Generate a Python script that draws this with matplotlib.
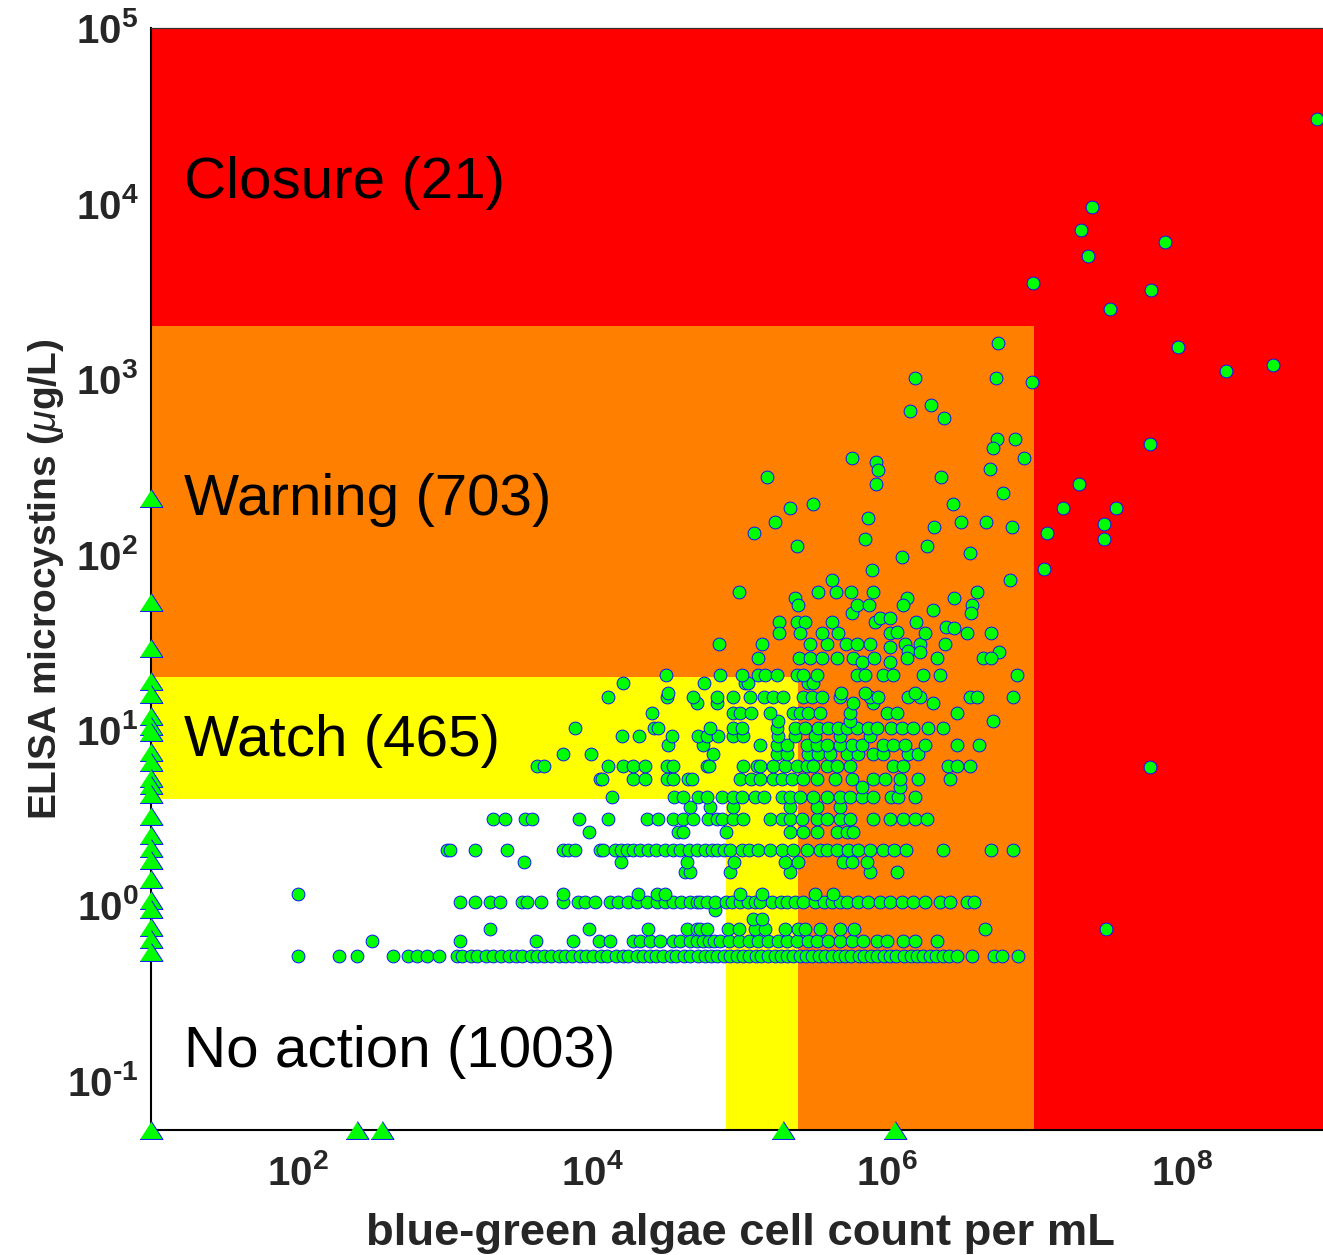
import numpy as np
import matplotlib
matplotlib.use('Agg')
import matplotlib.pyplot as plt
from matplotlib.patches import Rectangle
from matplotlib.ticker import FixedLocator, FixedFormatter, NullLocator

plt.rcParams['font.family'] = ['Liberation Sans', 'DejaVu Sans']
plt.rcParams['mathtext.fontset'] = 'custom'
plt.rcParams['mathtext.rm'] = 'Liberation Sans:bold'
plt.rcParams['mathtext.bf'] = 'Liberation Sans:bold'
plt.rcParams['mathtext.sf'] = 'Liberation Sans:bold'
plt.rcParams['mathtext.it'] = 'Liberation Sans:italic'

# ---------------- thresholds (guideline regions) ----------------
closure_toxin, closure_cells = 2000, 1e7
warning_toxin, warning_cells = 20, 2.5e5
watch_toxin, watch_cells = 4, 8e4

region_labels = ['Closure (21)', 'Warning (703)', 'Watch (465)', 'No action (1003)']

# ---------------- measured samples: rows of (toxin level, cell counts) ----------------
cells_at_0p51 = [100, 190, 250, 440, 560, 640, 750, 910, 1200, 1300, 1500, 1650, 1900, 2100, 2400,
                 2700, 3000, 3300, 3800, 4200, 4700, 5200, 5900, 6500, 7300, 8200, 9000, 10000,
                 11500, 12500, 14500, 16000, 17500, 20000, 22000, 24500, 27000, 30000, 34000, 37000,
                 42000, 46000, 52000, 58000, 64000, 70000, 78000, 86000, 95000, 105000, 115000,
                 128000, 140000, 155000, 172000, 190000, 210000, 230000, 255000, 280000, 310000,
                 345000, 380000, 420000, 470000, 520000, 570000, 640000, 700000, 780000, 860000,
                 950000, 1.05e6, 1.15e6, 1.3e6, 1.45e6, 1.6e6, 1.75e6, 1.95e6, 2.15e6, 2.4e6,
                 2.65e6, 3.0e6, 3.8e6, 5.3e6, 6.0e6, 7.8e6]
cells_at_0p62 = [320, 1260, 4100, 7400, 11000, 13200, 18800, 21000, 24500, 28700, 35000, 39000,
                 46000, 51000, 56000, 62000, 67000, 73000, 85000, 98000, 115000, 133000, 155000,
                 181000, 210000, 243000, 290000, 333000, 400000, 477000, 580000, 690000, 850000,
                 1.0e6, 1.29e6, 1.55e6, 2.18e6]
cells_at_0p73 = [2000, 9500, 23800, 43600, 51000, 54000, 60000, 83000, 98000, 127000, 148000,
                 203000, 248000, 277000, 350000, 477000, 600000, 4.6e6]
cells_at_0p83 = [123000, 142000]
cells_at_0p94 = [68000]
cells_at_1p04 = [1260, 1580, 2000, 2350, 3300, 3600, 4500, 6300, 8000, 8900, 10400, 13200, 14800,
                 17400, 20000, 23400, 27300, 31000, 35000, 40000, 46000, 51000, 54000, 60000,
                 68000, 80000, 88000, 100000, 113000, 127000, 138000, 166000, 190000, 210000,
                 237000, 270000, 323000, 370000, 420000, 480000, 535000, 630000, 740000, 890000,
                 1.05e6, 1.26e6, 1.5e6, 1.8e6, 2.28e6, 2.66e6, 3.47e6, 3.9e6]
cells_at_1p15 = [100, 6300, 20500, 27300, 31000, 100000, 142000, 323000, 430000]
cells_at_1p54 = [42500, 46000, 86000, 220000, 767000, 1.17e6]
cells_at_1p76 = [3400, 15500, 43600, 92000, 203000, 248000, 500000, 575000, 725000]
cells_at_2p06 = [1020, 1070, 1580, 2630, 6300, 6800, 7600, 11200, 11700, 14100, 15500, 17200,
                 18800, 21000, 23700, 27000, 31000, 35000, 39000, 45000, 51000, 58000, 65000,
                 70000, 78000, 86000, 103000, 115000, 133000, 160000, 193000, 230000, 285000,
                 350000, 390000, 457000, 543000, 630000, 767000, 935000, 1.12e6, 1.35e6, 2.4e6,
                 5.1e6, 7.2e6]
cells_at_2p6 = [9500, 38000, 41000, 81000, 220000, 270000, 335000, 457000, 535000, 590000]
cells_at_3p1 = [2100, 2540, 3470, 3890, 8100, 12700, 23400, 27900, 35000, 41000, 48000, 61000,
                70000, 76000, 90000, 105000, 160000, 193000, 220000, 265000, 335000, 390000,
                477000, 560000, 800000, 1.05e6, 1.29e6, 1.55e6, 1.86e6]
cells_at_3p6 = [46000, 63000, 90000, 220000, 335000, 477000]
cells_at_4p1 = [13500, 36000, 41000, 52000, 60000, 76000, 90000, 103000, 127000, 145000, 193000,
                220000, 257000, 316000, 390000, 477000, 560000, 680000, 800000, 1.07e6, 1.19e6,
                1.55e6]
cells_at_4p7 = [680000, 1.23e6]
cells_at_5p2 = [11200, 11600, 18800, 22600, 32000, 35000, 44700, 47300, 100000, 120000, 138000,
                168000, 193000, 226000, 270000, 335000, 442000, 575000, 800000, 965000, 1.23e6,
                1.62e6, 2.69e6]
cells_at_6p2 = [4200, 4700, 12700, 16200, 18800, 22600, 32000, 35000, 60000, 62000, 105000,
                130000, 138000, 168000, 203000, 243000, 285000, 316000, 390000, 457000, 560000,
                1.1e6, 1.29e6, 2.6e6, 3.0e6, 3.67e6]
cells_at_7p2 = [6300, 9700, 66000, 178000, 210000, 292000, 340000, 412000, 535000, 630000, 800000,
                935000, 1.39e6, 1.62e6]
cells_at_8p2 = [32400, 56000, 138000, 178000, 210000, 285000, 335000, 390000, 477000, 575000,
                680000, 935000, 1.1e6, 1.32e6, 1.82e6, 3.0e6, 4.2e6]
cells_at_9p2 = [15800, 20700, 34700, 52000, 60000, 71000, 90000, 105000, 181000, 237000, 323000,
                477000, 767000]
cells_at_10p2 = [7600, 26300, 27900, 63000, 90000, 103000, 178000, 237000, 277000, 340000, 400000,
                 467000, 535000, 623000, 740000, 850000, 1.07e6, 1.26e6, 1.5e6, 1.9e6, 2.4e6]
cells_at_11p2 = [181000, 560000, 5.25e6]
cells_at_12p4 = [25400, 90000, 100000, 120000, 160000, 230000, 257000, 292000, 350000, 560000,
                 1.0e6, 1.17e6, 3.0e6]
cells_at_14p2 = [51000, 70000, 590000, 800000, 2.05e6]
cells_at_15p4 = [12700, 32000, 48000, 70000, 90000, 117000, 145000, 168000, 197000, 270000,
                 309000, 363000, 477000, 767000, 870000, 1.38e6, 1.68e6, 3.67e6, 4.1e6, 7.2e6]
cells_at_16p2 = [32400, 490000, 705000, 1.55e6]
cells_at_18p4 = [16200, 57500, 108000, 113000, 292000, 316000]
cells_at_20p5 = [31600, 73000, 103000, 133000, 148000, 178000, 243000, 270000, 335000, 623000,
                 705000, 935000, 1.1e6, 1.76e6, 2.28e6, 7.6e6]

toxin_levels = [0.51, 0.62, 0.73, 0.83, 0.94, 1.04, 1.15, 1.54, 1.76, 2.06, 2.6, 3.1, 3.6, 4.1,
                4.7, 5.2, 6.2, 7.2, 8.2, 9.2, 10.2, 11.2, 12.4, 14.2, 15.4, 16.2, 18.4, 20.5]
cells_by_level = [cells_at_0p51, cells_at_0p62, cells_at_0p73, cells_at_0p83, cells_at_0p94,
                  cells_at_1p04, cells_at_1p15, cells_at_1p54, cells_at_1p76, cells_at_2p06,
                  cells_at_2p6, cells_at_3p1, cells_at_3p6, cells_at_4p1, cells_at_4p7,
                  cells_at_5p2, cells_at_6p2, cells_at_7p2, cells_at_8p2, cells_at_9p2,
                  cells_at_10p2, cells_at_11p2, cells_at_12p4, cells_at_14p2, cells_at_15p4,
                  cells_at_16p2, cells_at_18p4, cells_at_20p5]

# scattered high-toxin samples (cells/mL, ug/L)
high_cells = [72000, 141000, 299000, 390000, 525000, 623000, 767000, 1.05e6, 1.32e6, 1.68e6, 2.48e6,
              1.38e6, 1.68e6, 5.75e6,
              133000, 251000, 299000, 363000, 457000, 590000, 676000, 813000, 1.05e6, 1.36e6,
              2.18e6, 4.5e6, 5.1e6,
              184000, 184000, 245000, 277000, 422000, 257000, 363000, 467000, 822000, 890000,
              1.05e6, 1.05e6, 1.17e6, 1.58e6, 1.8e6, 2.52e6, 2.85e6, 3.47e6, 5.07e6,
              575000, 623000, 758000, 2.05e6, 3.8e6, 3.72e6, 237000, 248000, 1.36e6, 1.29e6, 2.85e6,
              99000, 340000, 452000, 569000, 803000, 4.07e6, 422000, 6.84e6, 794000, 1.26e6,
              3.67e6, 245000, 1.86e6, 708000, 124000, 2.09e6, 3.16e6, 4.68e6, 7.08e6, 741000,
              174000, 219000, 316000, 2.82e6, 6.1e6, 153000, 2.34e6, 5.0e6, 8.5e6, 575000,
              841000, 870000, 841000, 5.56e6, 7.4e6, 5.25e6, 1.43e6, 2.0e6, 2.43e6, 1.55e6,
              5.5e6, 9.66e6, 5.69e6,
              8.3e8, 2.45e7, 2.08e7, 7.7e7, 2.32e7, 9.77e6, 6.2e7, 3.24e7, 9.4e7, 2.0e8, 4.2e8,
              6.1e7, 2.0e7, 1.57e7, 3.6e7, 2.95e7, 2.95e7, 1.22e7, 1.16e7, 6.1e7, 3.05e7]
high_toxin = [30.8, 30.8, 30.8, 30.8, 30.8, 30.8, 30.8, 29.5, 30.8, 30.8, 30.8,
              28, 27.6, 27.6,
              25.6, 25.6, 25.6, 25.6, 25.6, 25.6, 24.3, 25.6, 24.3, 25.6,
              25.6, 25.6, 25.6,
              41, 35.6, 41, 41, 41, 35.6, 35.6, 35.6, 41, 43,
              43, 35.6, 36, 41, 35.6, 38.5, 38, 35.6, 35.6,
              46, 51, 51, 48, 51, 46, 56, 51, 56, 51, 56,
              61, 61, 61, 61, 61, 61, 71, 71, 81, 96,
              102, 111, 111, 122, 132, 143, 153, 153, 143, 161,
              153, 183, 193, 193, 223, 275, 275, 306, 353, 353,
              335, 302, 251, 454, 454, 403, 655, 710, 598, 1010,
              1010, 960, 1600,
              30300, 9530, 7050, 6020, 5010, 3520, 3210, 2500, 1520, 1110, 1200,
              425, 251, 183, 183, 149, 122, 132, 82, 6.1, 0.73]

# samples with zero cell count (plotted on the y axis) and zero toxin (on the x axis)
toxin_when_no_cells = [210, 53, 29, 19, 16, 12, 10.5, 9.7, 7.4, 6.5, 5.3, 4.8, 4.3, 3.2, 2.5, 2.1,
                       1.8, 1.4, 1.07, 0.95, 0.75, 0.64, 0.54, 0]
cells_when_no_toxin = [253, 374, 1.96e5, 1.14e6]

x_ticks = [1e2, 1e4, 1e6, 1e8]
x_tick_labels = [r'$\mathbf{10^{2}}$', r'$\mathbf{10^{4}}$', r'$\mathbf{10^{6}}$', r'$\mathbf{10^{8}}$']
y_ticks = [1e-1, 1e0, 1e1, 1e2, 1e3, 1e4, 1e5]
y_tick_labels = ['$\\mathbf{10^{\u2010' + '1}}$', r'$\mathbf{10^{0}}$', r'$\mathbf{10^{1}}$',
                 r'$\mathbf{10^{2}}$', r'$\mathbf{10^{3}}$', r'$\mathbf{10^{4}}$', r'$\mathbf{10^{5}}$']

XMIN, XMAX = 10, 1e9
YMIN, YMAX = 0.052, 1e5

# ---------------- figure ----------------
fig = plt.figure(figsize=(13.23, 12.55), dpi=100)
ax = fig.add_axes([0.1139, 0.0996, 0.8906, 0.8781])
ax.set_xscale('log')
ax.set_yscale('log')
ax.set_xlim(XMIN, XMAX)
ax.set_ylim(YMIN, YMAX)

ax.set_facecolor('#ff0000')
ax.add_patch(Rectangle((XMIN, YMIN), closure_cells - XMIN, closure_toxin - YMIN,
                       facecolor='#ff8000', edgecolor='none', zorder=0.5))
ax.add_patch(Rectangle((XMIN, YMIN), warning_cells - XMIN, warning_toxin - YMIN,
                       facecolor='#ffff00', edgecolor='none', zorder=0.6))
ax.add_patch(Rectangle((XMIN, YMIN), watch_cells - XMIN, watch_toxin - YMIN,
                       facecolor='#ffffff', edgecolor='none', zorder=0.7))

xs, ys = [], []
for lvl, cl in zip(toxin_levels, cells_by_level):
    xs.extend(cl)
    ys.extend([lvl] * len(cl))
xs.extend(high_cells)
ys.extend(high_toxin)

ax.plot(xs, ys, linestyle='none', marker='o', ms=9.2, mfc='#00ff00', mec='#1010ff', mew=0.7,
        zorder=3)

tri = [(-1, -0.78), (1, -0.78), (0, 0.78)]
ty = [t if t > 0 else YMIN for t in toxin_when_no_cells]
ax.plot([XMIN] * len(ty), ty, linestyle='none', marker=tri, ms=16.5, mfc='#00ff00',
        mec='#1010ff', mew=0.7, zorder=5, clip_on=False)
ax.plot(cells_when_no_toxin, [YMIN] * len(cells_when_no_toxin), linestyle='none', marker=tri,
        ms=16.5, mfc='#00ff00', mec='#1010ff', mew=0.7, zorder=5, clip_on=False)

# region labels
label_y = [0.8593, 0.5717, 0.3530, 0.0708]
for txt, yy in zip(region_labels, label_y):
    ax.text(0.0283, yy, txt, transform=ax.transAxes, fontsize=42, color='black',
            ha='left', va='center', zorder=6)

# axes styling
for s in ['left', 'bottom']:
    ax.spines[s].set_linewidth(1.5)
    ax.spines[s].set_color('black')
ax.spines['top'].set_linewidth(0.9)
ax.spines['top'].set_color('#333333')
ax.spines['right'].set_visible(False)

ax.xaxis.set_major_locator(FixedLocator(x_ticks))
ax.xaxis.set_major_formatter(FixedFormatter(x_tick_labels))
ax.yaxis.set_major_locator(FixedLocator(y_ticks))
ax.yaxis.set_major_formatter(FixedFormatter(y_tick_labels))
ax.xaxis.set_minor_locator(NullLocator())
ax.yaxis.set_minor_locator(NullLocator())
ax.tick_params(axis='both', length=0, labelsize=29, labelcolor='#262626')
ax.tick_params(axis='x', pad=17)
ax.tick_params(axis='y', pad=9)

ax.set_xlabel('blue-green algae cell count per mL', fontsize=32.7, fontweight='bold',
              color='#262626')
ax.set_ylabel(r'ELISA microcystins ($\mathit{\mu}$g/L)', fontsize=28, fontweight='bold',
              color='#262626')
ax.xaxis.set_label_coords(0.501, -0.075)
ax.yaxis.set_label_coords(-0.0719, 0.5)

fig.savefig('out.png', dpi=100)
